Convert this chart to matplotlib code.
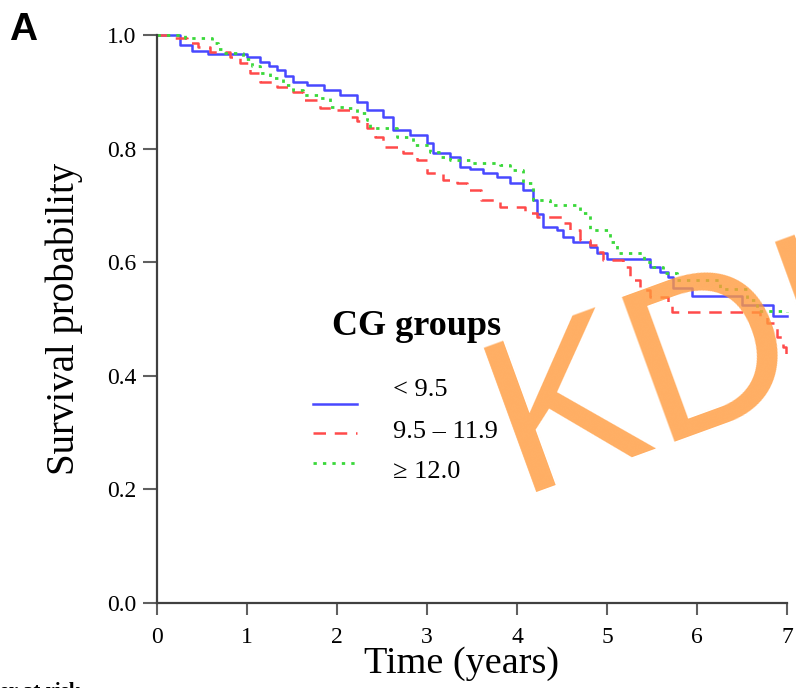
import matplotlib
matplotlib.use("Agg")
import matplotlib.pyplot as plt

# Kaplan-Meier step data (time in years, survival probability)
t_low = [0, 0.25, 0.39, 0.57, 1.0, 1.14, 1.24, 1.33, 1.42, 1.51, 1.67, 1.85, 2.03, 2.22,
         2.33, 2.51, 2.62, 2.81, 3.0, 3.07, 3.26, 3.37, 3.48, 3.62, 3.78, 3.92, 4.07, 4.18,
         4.22, 4.29, 4.44, 4.51, 4.62, 4.81, 4.89, 5.0, 5.48, 5.59, 5.68, 5.73, 5.94, 6.5,
         6.84, 7.0]
s_low = [1.0, 0.982, 0.972, 0.966, 0.961, 0.952, 0.945, 0.938, 0.928, 0.917, 0.912, 0.903,
         0.894, 0.882, 0.868, 0.856, 0.833, 0.824, 0.81, 0.792, 0.785, 0.768, 0.764, 0.757,
         0.75, 0.739, 0.727, 0.71, 0.685, 0.662, 0.657, 0.644, 0.636, 0.627, 0.616, 0.605,
         0.592, 0.583, 0.574, 0.555, 0.54, 0.525, 0.505, 0.505]

t_mid = [0, 0.15, 0.33, 0.45, 0.59, 0.81, 0.92, 1.03, 1.14, 1.33, 1.51, 1.62, 1.81, 2.0,
         2.14, 2.22, 2.33, 2.42, 2.51, 2.73, 2.89, 3.0, 3.18, 3.33, 3.44, 3.6, 3.81, 4.09,
         4.22, 4.51, 4.59, 4.7, 4.81, 4.89, 4.96, 5.18, 5.26, 5.37, 5.48, 5.68, 5.72, 6.7,
         6.78, 6.89, 6.96, 6.99, 7.0]
s_mid = [1.0, 0.995, 0.986, 0.978, 0.97, 0.961, 0.951, 0.933, 0.917, 0.909, 0.9, 0.886,
         0.871, 0.868, 0.856, 0.848, 0.836, 0.82, 0.803, 0.792, 0.78, 0.757, 0.745, 0.739,
         0.727, 0.71, 0.697, 0.687, 0.679, 0.669, 0.657, 0.639, 0.63, 0.618, 0.604, 0.592,
         0.569, 0.551, 0.539, 0.528, 0.513, 0.504, 0.493, 0.468, 0.45, 0.435, 0.435]

t_high = [0, 0.31, 0.61, 0.68, 0.72, 0.96, 1.06, 1.14, 1.26, 1.4, 1.51, 1.62, 1.81, 1.92,
          2.11, 2.22, 2.33, 2.37, 2.67, 2.84, 3.03, 3.14, 3.26, 3.48, 3.81, 3.92, 4.07,
          4.18, 4.37, 4.7, 4.81, 5.03, 5.11, 5.41, 5.51, 5.62, 5.78, 6.26, 6.56, 6.67, 7.0]
s_high = [1.0, 0.995, 0.986, 0.975, 0.968, 0.958, 0.945, 0.933, 0.924, 0.912, 0.903, 0.894,
          0.889, 0.873, 0.871, 0.863, 0.85, 0.836, 0.82, 0.806, 0.794, 0.785, 0.78, 0.775,
          0.771, 0.762, 0.739, 0.71, 0.7, 0.687, 0.657, 0.636, 0.616, 0.6, 0.592, 0.581,
          0.569, 0.553, 0.533, 0.514, 0.512]

group_labels = ["< 9.5", "9.5 \u2013 11.9", "\u2265 12.0"]
x_ticks = [0, 1, 2, 3, 4, 5, 6, 7]
y_ticks = [0.0, 0.2, 0.4, 0.6, 0.8, 1.0]

serif = ["Liberation Serif", "DejaVu Serif"]
sans = ["Liberation Sans", "DejaVu Sans"]
W, H = 796, 688

fig = plt.figure(figsize=(W / 100, H / 100), dpi=100)
ax = fig.add_axes([157 / W, 1 - 603 / H, 630 / W, 568 / H])

styles = [dict(color="#4848ff", linestyle="-", linewidth=1.8),
          dict(color="#ff4a4a", linestyle=(0, (5, 3.5)), linewidth=1.8),
          dict(color="#3ad83a", linestyle=(0, (1.2, 2.2)), linewidth=2.0)]

for tt, ss, st in zip([t_low, t_mid, t_high], [s_low, s_mid, s_high], styles):
    ax.step(tt, ss, where="post", clip_on=False, **st)

ax.set_xlim(0, 7)
ax.set_ylim(0, 1)
ax.set_xticks(x_ticks)
ax.set_yticks(y_ticks)
ax.set_xticklabels([str(v) for v in x_ticks], fontsize=17, family=serif)
ax.set_yticklabels([f"{v:.1f}" for v in y_ticks], fontsize=17, family=serif)
ax.tick_params(axis="x", length=8.5, width=1.5, color="#606060", pad=9)
ax.tick_params(axis="y", length=10, width=1.5, color="#606060", pad=5)
for side in ["top", "right"]:
    ax.spines[side].set_visible(False)
for side in ["left", "bottom"]:
    ax.spines[side].set_color("#404040")
    ax.spines[side].set_linewidth(1.6)

ax.set_xlabel("Time (years)", fontsize=27.5, family=serif)
ax.xaxis.set_label_coords(0.484, -0.077)
ax.set_ylabel("Survival probability", fontsize=28, family=serif, labelpad=17)

# legend drawn by hand (text and keys are offset like in the original)
ax.text(0.4127, 0.486, "CG groups", transform=ax.transAxes, ha="center", va="center",
        fontsize=26, fontweight="bold", family=serif)
key_y = [0.3504, 0.2993, 0.2465]
txt_y = [0.375, 0.301, 0.2306]
for ky, ty, lab, st in zip(key_y, txt_y, group_labels, styles):
    ax.plot([0.2476, 0.3175], [ky, ky], transform=ax.transAxes, clip_on=False, **st)
    ax.text(0.3746, ty, lab, transform=ax.transAxes, ha="left", va="center",
            fontsize=19, family=serif)

fig.text(9 / W, 1 - 40 / H, "A", fontsize=28, fontweight="bold",
         family=sans, ha="left", va="baseline")
fig.text(80 / W, 1 - 697 / H, "Number at risk", fontsize=15, fontweight="bold",
         family=serif, ha="right", va="baseline")

# watermark
fig.text(518 / W, 1 - 492 / H, "KDIGO", fontsize=160, color="#ff9a3c", alpha=0.8,
         family=sans, rotation=20, rotation_mode="anchor",
         ha="left", va="baseline", zorder=10)

fig.savefig("out.png", dpi=100)
